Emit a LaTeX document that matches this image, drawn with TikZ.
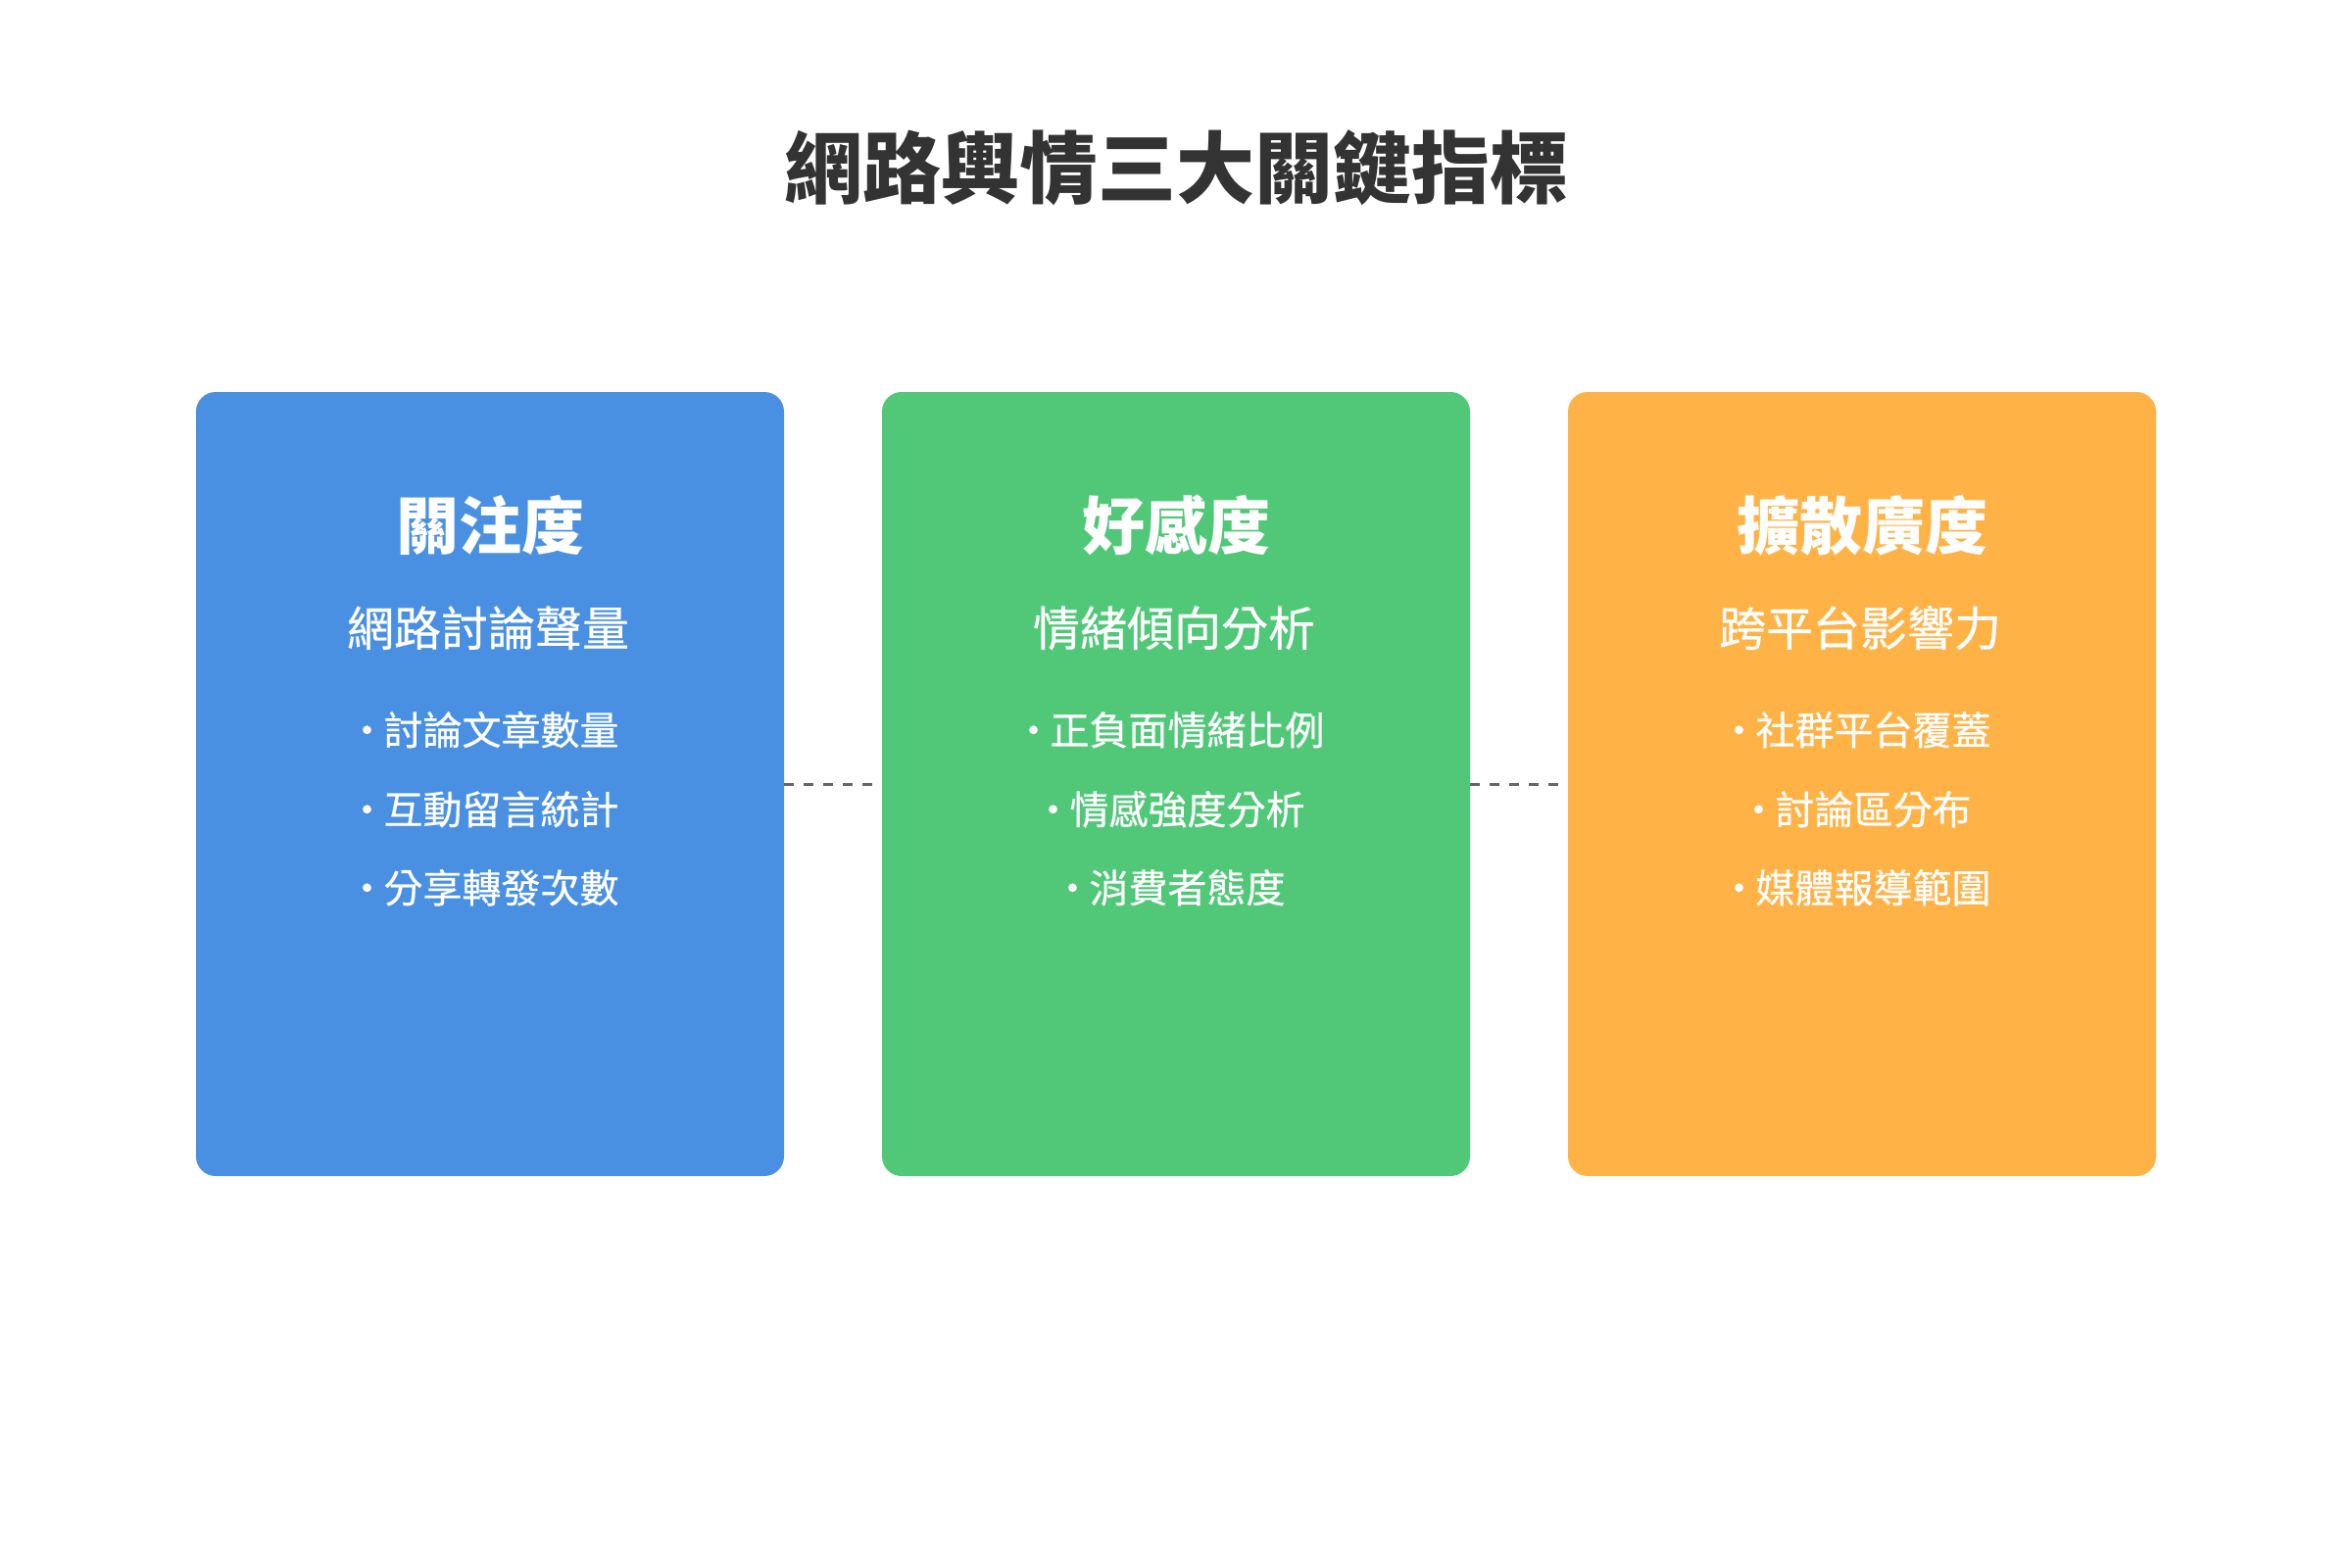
\documentclass[tikz,border=0pt]{standalone}
\usepackage{fontspec}
\newfontfamily\cjk{Noto Sans CJK TC}
\newfontfamily\cjkmed[FakeBold=0.5]{Noto Sans CJK TC}
\definecolor{cblue}{HTML}{4A90E2}
\definecolor{cgreen}{HTML}{50C878}
\definecolor{corange}{HTML}{FFB347}
\definecolor{ctitle}{HTML}{333333}
\definecolor{cdash}{HTML}{666666}
\newcommand{\bul}{•\kern-3pt}
\tikzset{
  card/.style={rectangle, rounded corners=20pt, minimum width=600pt, minimum height=800pt, inner sep=0pt, draw=none},
  titletext/.style={anchor=base, inner sep=0pt, text=ctitle, font=\cjk\bfseries\fontsize{80pt}{96pt}\selectfont},
  headtext/.style={anchor=base, inner sep=0pt, text=white, font=\cjk\bfseries\fontsize{64pt}{76pt}\selectfont},
  subtext/.style={anchor=base, inner sep=0pt, text=white, font=\cjkmed\fontsize{48pt}{58pt}\selectfont},
  itemtext/.style={anchor=base, inner sep=0pt, text=white, font=\cjkmed\fontsize{40pt}{48pt}\selectfont, xshift=-7pt},
  dashline/.style={draw=cdash, line width=3pt, dash pattern=on 10pt off 10pt}
}
\begin{document}
\begin{tikzpicture}[x=1pt,y=-1pt]
\useasboundingbox[fill=white] (0,0) rectangle (2400,1600);
\node[titletext] (title) at (1200,201) {網路輿情三大關鍵指標};

\node[card, fill=cblue] (c1) at (500,800) {};
\node[card, fill=cgreen] (c2) at (1200,800) {};
\node[card, fill=corange] (c3) at (1900,800) {};

\draw[dashline] (c1.east) -- (c2.west);
\draw[dashline] (c2.east) -- (c3.west);

\node[headtext] (h1) at (500,560) {關注度};
\node[subtext] (s1) at (498,659) {網路討論聲量};
\node[itemtext] (i11) at (500,760) {\bul 討論文章數量};
\node[itemtext] (i12) at (500,841) {\bul 互動留言統計};
\node[itemtext] (i13) at (500,921) {\bul 分享轉發次數};

\node[headtext] (h2) at (1200,560) {好感度};
\node[subtext] (s2) at (1198,659) {情緒傾向分析};
\node[itemtext] (i21) at (1200,760) {\bul 正負面情緒比例};
\node[itemtext] (i22) at (1200,841) {\bul 情感強度分析};
\node[itemtext] (i23) at (1200,921) {\bul 消費者態度};

\node[headtext] (h3) at (1900,560) {擴散廣度};
\node[subtext] (s3) at (1898,659) {跨平台影響力};
\node[itemtext] (i31) at (1900,760) {\bul 社群平台覆蓋};
\node[itemtext] (i32) at (1900,841) {\bul 討論區分布};
\node[itemtext] (i33) at (1900,921) {\bul 媒體報導範圍};
\end{tikzpicture}
\end{document}
